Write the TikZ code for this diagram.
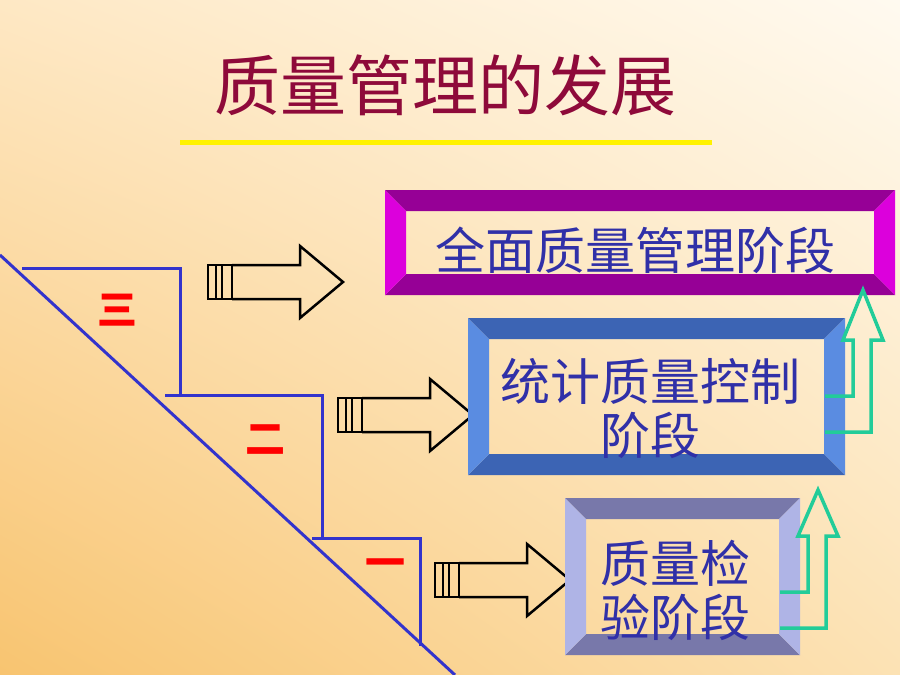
\documentclass[tikz,border=0pt]{standalone}
\usepackage{fontspec}
\usetikzlibrary{shadings}
\newfontfamily\cjk{Noto Sans CJK SC}
\definecolor{stairblue}{HTML}{3333CC}
\definecolor{textblue}{HTML}{3030A8}
\definecolor{titlered}{HTML}{8E0A3A}
\definecolor{greenarr}{HTML}{22CC99}
\definecolor{bgul}{RGB}{254,232,196}
\definecolor{bgur}{RGB}{255,250,240}
\definecolor{bgll}{RGB}{248,196,112}
\definecolor{bglr}{RGB}{252,226,180}
\definecolor{magl}{RGB}{220,0,220}
\definecolor{magd}{RGB}{150,0,150}
\definecolor{bluel}{RGB}{90,140,225}
\definecolor{blued}{RGB}{60,100,180}
\definecolor{lavl}{RGB}{175,180,230}
\definecolor{lavd}{RGB}{120,120,170}
% bevel frame: #1 lower left, #2 upper right, #3 bevel, #4 light, #5 dark
\newcommand{\bevelbox}[5]{%
  \path (#1) coordinate (bl) (#2) coordinate (tr);
  \fill[#5] (bl|-tr) -- (tr) -- ([shift={(-#3,#3)}]tr) -- ([shift={(#3,#3)}]bl|-tr) -- cycle;
  \fill[#5] (bl) -- (tr|-bl) -- ([shift={(-#3,-#3)}]tr|-bl) -- ([shift={(#3,-#3)}]bl) -- cycle;
  \fill[#4] (bl) -- (bl|-tr) -- ([shift={(#3,#3)}]bl|-tr) -- ([shift={(#3,-#3)}]bl) -- cycle;
  \fill[#4] (tr|-bl) -- (tr) -- ([shift={(-#3,#3)}]tr) -- ([shift={(-#3,-#3)}]tr|-bl) -- cycle;
}
\tikzset{
  stair/.style={stairblue, line width=3pt},
  num/.style={text=red, font=\cjk\bfseries\fontsize{40}{40}\selectfont},
  hollow/.style={draw=black, line width=2.5pt, line join=miter},
  uparr/.style={draw=greenarr, line width=3.5pt, line join=miter},
  stage/.style={text=textblue, font=\cjk\fontsize{50}{54}\selectfont, align=center}
}
\begin{document}
\begin{tikzpicture}[x=1pt, y=-1pt]
\useasboundingbox (0,0) rectangle (900,675);
\shade[upper left=bgul, upper right=bgur, lower left=bgll, lower right=bglr]
  (0,0) rectangle (900,675);

% title
\node[text=titlered, font=\cjk\fontsize{66}{66}\selectfont] (title) at (445,85) {质量管理的发展};
\draw[yellow, line width=5pt] (180,142) coordinate (ul) -- (712,142) coordinate (ur);

% stairs
\coordinate (s0) at (0,255);
\coordinate (s1) at (455,675);
\draw[stair] (s0) -- (s1);
\draw[stair] (22,268) -- (180,268) -- (180,397) (165,395) -- (322,395) -- (322,540) (312,538) -- (420,538) -- (420,646);
\node[num] (n3) at (117,310) {三};
\node[num] (n2) at (265,440) {二};
\node[num] (n1) at (385,568) {一};

% hollow arrows
\foreach \x/\y [count=\i] in {208/282, 338/415, 435/580}{
  \draw[hollow] (\x,\y-17) rectangle (\x+24,\y+17);
  \draw[hollow] (\x+8,\y-17) -- (\x+8,\y+17) (\x+14,\y-17) -- (\x+14,\y+17);
  \draw[hollow] (\x+24,\y-17) -- (\x+92,\y-17) -- (\x+92,\y-36) -- (\x+135,\y)
     coordinate (tip\i) -- (\x+92,\y+36) -- (\x+92,\y+17) -- (\x+24,\y+17);
}

% stage boxes
\bevelbox{385,295}{895,190}{21}{magl}{magd}
\node[stage] (s3) at (635,250) {全面质量管理阶段};
\bevelbox{468,475}{845,318}{21}{bluel}{blued}
\node[stage] (s2) at (650,408) {统计质量控制\\阶段};
\bevelbox{565,655}{800,498}{21}{lavl}{lavd}
\node[stage] (s1b) at (675,590) {质量检\\验阶段};

% green up arrows
\foreach \x/\y/\t in {780/628/490, 825/432/290}{
  \draw[uparr] (\x,\y) -- (\x+46,\y) -- (\x+46,\y-92) -- (\x+58,\y-92) -- (\x+38,\t)
    -- (\x+18,\y-92) -- (\x+28,\y-92) -- (\x+28,\y-36) -- (\x,\y-36);
}
\end{tikzpicture}
\end{document}
